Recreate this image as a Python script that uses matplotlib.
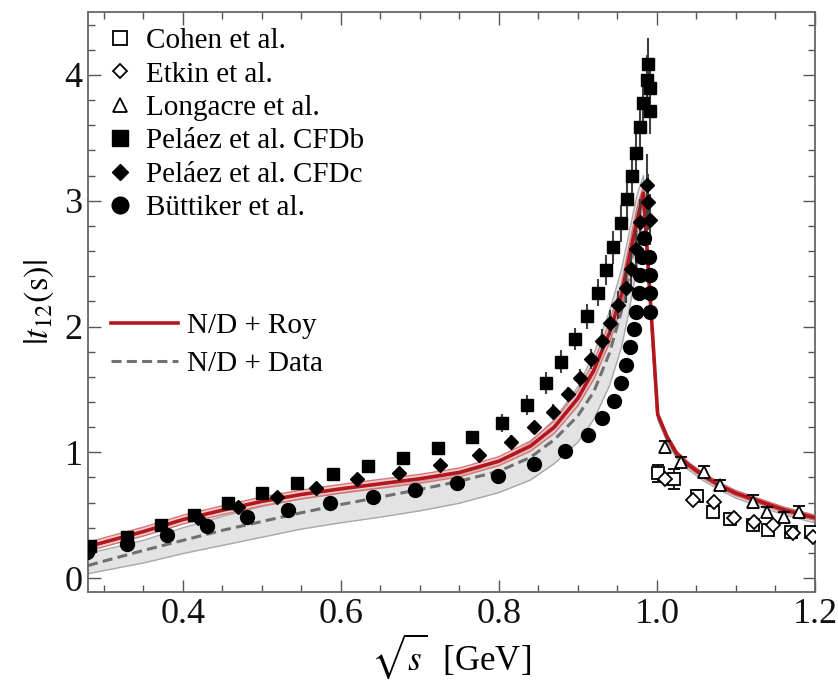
import numpy as np
import matplotlib
matplotlib.use("Agg")
import matplotlib.pyplot as plt
from matplotlib.lines import Line2D

plt.rcParams['font.family'] = ['Liberation Serif', 'DejaVu Serif']
plt.rcParams['mathtext.fontset'] = 'stix'

# ---------------- data ----------------
# Curves (N/D + Roy, N/D + Data) with their uncertainty bands
x_curve = [0.28, 0.30, 0.35, 0.40, 0.45, 0.50, 0.55, 0.60, 0.65, 0.70, 0.75, 0.80,
           0.84, 0.87, 0.90, 0.92, 0.94, 0.955, 0.965, 0.975, 0.983,
           1.001, 1.013, 1.025, 1.04, 1.06, 1.08, 1.10, 1.13, 1.16, 1.20]
roy = [0.25, 0.285, 0.37, 0.465, 0.54, 0.61, 0.665, 0.71, 0.75, 0.79, 0.84, 0.93,
       1.05, 1.20, 1.43, 1.65, 1.95, 2.25, 2.55, 2.85, 3.06,
       1.30, 1.12, 0.99, 0.90, 0.81, 0.735, 0.675, 0.61, 0.545, 0.48]
roy_lo = [0.215, 0.25, 0.335, 0.43, 0.505, 0.575, 0.63, 0.675, 0.715, 0.755, 0.805, 0.895,
          1.01, 1.15, 1.37, 1.58, 1.87, 2.16, 2.45, 2.75, 2.98,
          1.28, 1.10, 0.97, 0.88, 0.79, 0.715, 0.655, 0.59, 0.525, 0.46]
roy_hi = [0.285, 0.32, 0.405, 0.50, 0.575, 0.645, 0.70, 0.745, 0.785, 0.825, 0.875, 0.965,
          1.09, 1.25, 1.49, 1.72, 2.03, 2.34, 2.65, 2.95, 3.12,
          1.32, 1.14, 1.01, 0.92, 0.83, 0.755, 0.695, 0.63, 0.565, 0.50]
dat = [0.10, 0.135, 0.22, 0.30, 0.38, 0.45, 0.52, 0.585, 0.645, 0.705, 0.77, 0.85,
       0.96, 1.10, 1.29, 1.48, 1.79, 2.12, 2.42, 2.78, 3.05,
       1.29, 1.11, 0.98, 0.89, 0.80, 0.725, 0.665, 0.60, 0.535, 0.47]
dat_lo = [0.035, 0.06, 0.12, 0.195, 0.26, 0.325, 0.39, 0.44, 0.485, 0.535, 0.595, 0.68,
          0.78, 0.91, 1.08, 1.26, 1.53, 1.83, 2.13, 2.48, 2.90,
          1.26, 1.08, 0.95, 0.86, 0.77, 0.70, 0.635, 0.57, 0.505, 0.44]
dat_hi = [0.20, 0.225, 0.30, 0.40, 0.49, 0.57, 0.63, 0.68, 0.72, 0.77, 0.82, 0.92,
          1.08, 1.26, 1.52, 1.78, 2.12, 2.45, 2.75, 3.05, 3.20,
          1.32, 1.14, 1.01, 0.92, 0.83, 0.76, 0.695, 0.63, 0.565, 0.50]

# Pelaez et al. CFDb (filled squares)
cfdb_x = [0.283, 0.329, 0.372, 0.414, 0.457, 0.50, 0.544, 0.59, 0.634, 0.679, 0.723, 0.766,
          0.804, 0.836, 0.859, 0.879, 0.896, 0.911, 0.925, 0.935, 0.945, 0.955, 0.962,
          0.968, 0.974, 0.978, 0.983, 0.987, 0.989, 0.991, 0.991]
cfdb_y = [0.257, 0.328, 0.42, 0.50, 0.594, 0.678, 0.753, 0.825, 0.891, 0.957, 1.031, 1.119,
          1.235, 1.376, 1.55, 1.72, 1.90, 2.08, 2.27, 2.45, 2.63, 2.82, 3.01,
          3.20, 3.38, 3.59, 3.78, 3.96, 4.09, 3.90, 3.71]
cfdb_e = [0.02, 0.02, 0.02, 0.02, 0.03, 0.03, 0.03, 0.03, 0.04, 0.04, 0.05, 0.05,
          0.07, 0.08, 0.09, 0.09, 0.09, 0.10, 0.11, 0.12, 0.13, 0.15, 0.16,
          0.17, 0.18, 0.18, 0.18, 0.20, 0.20, 0.20, 0.18]

# Pelaez et al. CFDc (filled diamonds)
cfdc_x = [0.419, 0.470, 0.519, 0.569, 0.621, 0.674, 0.726, 0.775, 0.815, 0.845, 0.868, 0.887,
          0.903, 0.917, 0.930, 0.941, 0.951, 0.961, 0.967, 0.973, 0.979, 0.987, 0.989, 0.991]
cfdc_y = [0.477, 0.567, 0.642, 0.713, 0.785, 0.837, 0.899, 0.978, 1.084, 1.203, 1.322, 1.46,
          1.593, 1.739, 1.887, 2.03, 2.17, 2.31, 2.455, 2.62, 2.83, 3.125, 2.99, 2.85]
cfdc_e = [0.02, 0.02, 0.02, 0.03, 0.03, 0.03, 0.04, 0.04, 0.05, 0.05, 0.06, 0.06,
          0.07, 0.08, 0.09, 0.10, 0.11, 0.12, 0.13, 0.15, 0.18, 0.25, 0.22, 0.20]

# Buttiker et al. (filled circles)
butt_x = [0.279, 0.33, 0.38, 0.43, 0.481, 0.533, 0.586, 0.641, 0.694, 0.747, 0.799, 0.845,
          0.884, 0.913, 0.931, 0.946, 0.954, 0.961, 0.966, 0.971, 0.974, 0.977, 0.979,
          0.981, 0.984, 0.990, 0.991, 0.991, 0.991]
butt_y = [0.21, 0.27, 0.342, 0.414, 0.483, 0.541, 0.599, 0.647, 0.70, 0.753, 0.814, 0.904,
          1.01, 1.137, 1.27, 1.41, 1.548, 1.694, 1.835, 1.978, 2.118, 2.264, 2.41,
          2.555, 2.70, 2.555, 2.41, 2.264, 2.118]

# Cohen et al. (open squares)
cohen_x = [1.001, 1.021, 1.051, 1.071, 1.092, 1.121, 1.140, 1.170, 1.195]
cohen_y = [0.832, 0.785, 0.652, 0.527, 0.469, 0.421, 0.382, 0.368, 0.365]
cohen_e = [0.066, 0.08, 0.05, 0.03, 0.03, 0.03, 0.03, 0.03, 0.03]

# Etkin et al. (open diamonds)
etkin_x = [1.010, 1.046, 1.072, 1.097, 1.123, 1.147, 1.172, 1.197]
etkin_y = [0.785, 0.62, 0.607, 0.48, 0.448, 0.421, 0.36, 0.328]

# Longacre et al. (open triangles)
long_x = [1.010, 1.030, 1.060, 1.080, 1.121, 1.139, 1.161, 1.180]
long_y = [1.044, 0.925, 0.845, 0.74, 0.607, 0.527, 0.488, 0.527]
long_e = [0.05, 0.04, 0.05, 0.04, 0.05, 0.04, 0.04, 0.05]

# ---------------- figure ----------------
fig = plt.figure(figsize=(8.38, 6.91), dpi=100)
ax = fig.add_axes([0.105, 0.1433, 0.8675, 0.8393])

red = '#b4161e'
gray_edge = '#a8a8a8'
dash_pat = (3.3, 1.7)

# gray band (N/D + Data)
ax.fill_between(x_curve, dat_lo, dat_hi, color='#e3e3e3', lw=0, zorder=1)
ax.plot(x_curve, dat_lo, color=gray_edge, lw=1.0, zorder=1.5)
ax.plot(x_curve, dat_hi, color=gray_edge, lw=1.0, zorder=1.5)
ax.plot(x_curve, dat, color='#707070', lw=2.2, dashes=dash_pat, zorder=2)

# red band (N/D + Roy)
ax.fill_between(x_curve, roy_lo, roy_hi, color='#e8a3a3', alpha=0.55, lw=0, zorder=2.5)
ax.plot(x_curve, roy_lo, color='#d47474', lw=1.0, zorder=2.6)
ax.plot(x_curve, roy_hi, color='#d47474', lw=1.0, zorder=2.6)
ax.plot(x_curve, roy, color=red, lw=2.6, zorder=3)

ekw = dict(ecolor='#404040', elinewidth=1.5, zorder=4)
ax.errorbar(cfdb_x, cfdb_y, yerr=cfdb_e, fmt='s', ms=9, mfc='k', mec='k', **ekw)
ax.errorbar(cfdc_x, cfdc_y, yerr=cfdc_e, fmt='D', ms=7, mfc='k', mec='k', **ekw)
ax.plot(butt_x, butt_y, 'o', ms=10, color='k', zorder=5)
ax.errorbar(cohen_x, cohen_y, yerr=cohen_e, fmt='s', ms=8, mfc='white', mec='k', mew=1.3,
            capsize=4, capthick=1.3, ecolor='k', elinewidth=1.2, zorder=4)
ax.plot(etkin_x, etkin_y, 'D', ms=7, mfc='white', mec='k', mew=1.3, zorder=5)
ax.errorbar(long_x, long_y, yerr=long_e, fmt='^', ms=9, mfc='white', mec='k', mew=1.3,
            capsize=4, capthick=1.3, ecolor='k', elinewidth=1.2, zorder=4)

# axes style
ax.set_xlim(0.28, 1.2)
ax.set_ylim(-0.11, 4.5)
ax.set_xticks([0.4, 0.6, 0.8, 1.0, 1.2])
ax.set_xticklabels(['0.4', '0.6', '0.8', '1.0', '1.2'])
ax.set_xticks(np.arange(0.30, 1.2001, 0.05), minor=True)
ax.set_yticks([0, 1, 2, 3, 4])
ax.set_yticks(np.arange(0, 4.41, 0.2), minor=True)
ax.tick_params(which='both', direction='in', top=True, right=True, color='#555555', width=1.0,
               labelsize=26, labelcolor='#111111')
ax.tick_params(which='major', length=9, pad=4)
ax.tick_params(which='minor', length=5)
for s in ax.spines.values():
    s.set_color('#666666')
    s.set_linewidth(1.3)

ax.set_xlabel(r'$\sqrt{s}$  [GeV]', fontsize=25, labelpad=1)
ax.set_ylabel(r'$|t_{12}(\mathrm{s})|$', fontsize=25, labelpad=6)

# legends
h1 = [Line2D([], [], ls='none', marker='s', ms=10, mfc='white', mec='k', mew=1.3),
      Line2D([], [], ls='none', marker='D', ms=7.5, mfc='white', mec='k', mew=1.3),
      Line2D([], [], ls='none', marker='^', ms=10, mfc='white', mec='k', mew=1.3),
      Line2D([], [], ls='none', marker='s', ms=11, mfc='k', mec='k'),
      Line2D([], [], ls='none', marker='D', ms=8.5, mfc='k', mec='k'),
      Line2D([], [], ls='none', marker='o', ms=12, mfc='k', mec='k')]
l1 = ['Cohen et al.', 'Etkin et al.', 'Longacre et al.', 'Peláez et al. CFDb',
      'Peláez et al. CFDc', 'Büttiker et al.']
leg1 = ax.legend(h1, l1, loc='upper left', bbox_to_anchor=(0.024, 0.973), frameon=False,
                 fontsize=21, handlelength=1.0, handletextpad=0.4, labelspacing=0.24,
                 borderaxespad=0, borderpad=0)
ax.add_artist(leg1)
h2 = [Line2D([], [], color=red, lw=2.6),
      Line2D([], [], color='#707070', lw=2.2, dashes=dash_pat)]
l2 = ['N/D + Roy', 'N/D + Data']
ax.legend(h2, l2, loc='upper left', bbox_to_anchor=(0.032, 0.481), frameon=False,
          fontsize=21, handlelength=2.3, handletextpad=0.3, labelspacing=0.39,
          borderaxespad=0, borderpad=0)

fig.savefig('out.png', dpi=100)
